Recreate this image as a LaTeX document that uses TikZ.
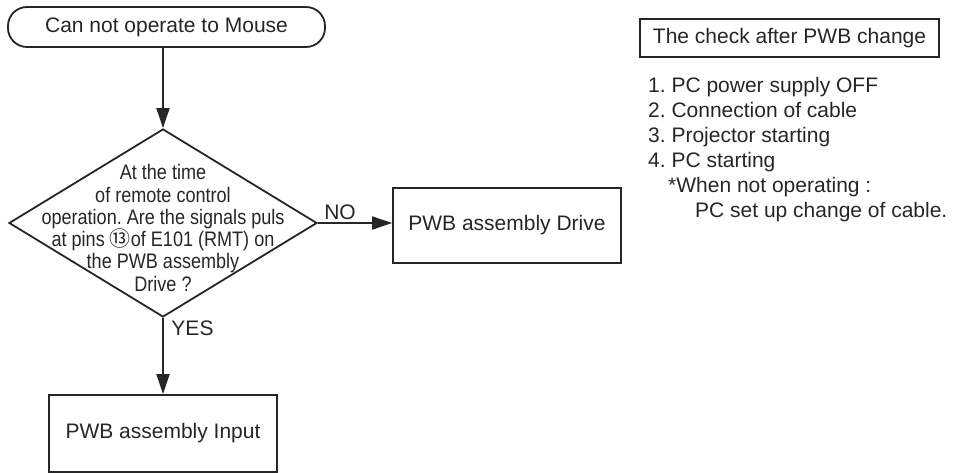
\documentclass[tikz,border=0pt]{standalone}
\usepackage{fontspec}
\setmainfont{Liberation Sans}
\newfontfamily\condfont{Liberation Sans}[FakeStretch=0.86]
\newfontfamily\cjkfont{Noto Sans CJK SC}
\usetikzlibrary{shapes.geometric,arrows.meta}
\frenchspacing
\begin{document}
\begin{tikzpicture}[x=1pt,y=-1pt,
  every node/.style={font=\fontsize{21}{25}\selectfont, text=black!85},
  box/.style={draw=black!85, line width=1.8pt, inner sep=0pt, align=center},
  decision/.style={draw=black!85, line width=1.8pt, diamond, inner sep=0pt, minimum width=308pt, minimum height=188pt},
  dectext/.style={align=center, inner sep=0pt, font=\condfont\fontsize{21}{22.3}\selectfont},
  arr/.style={line width=1.8pt, draw=black!85, -{Triangle[length=20pt,width=13pt]}},
  lbl/.style={inner sep=0pt},
  listline/.style={anchor=base west, inner sep=0pt}
]
\useasboundingbox (0,0) rectangle (956,473);
% start
\node[box, rounded corners=19pt, minimum width=317pt, minimum height=40pt] (start) at (166.5,27) {Can not operate to Mouse};
% decision
\node[decision] (dec) at (163,223) {};
\node[dectext] (dect) at (163,228) {\frenchspacing At the time\\of remote control\\operation. Are the signals puls\\at pins {\cjkfont ⑬}of E101 (RMT) on\\the PWB assembly\\Drive ?};
% result boxes
\node[box, minimum width=228pt, minimum height=75pt] (drive) at (507,225.5) {PWB assembly Drive};
\node[box, minimum width=228pt, minimum height=77pt] (input) at (163,433.5) {PWB assembly Input};
% connectors
\draw[arr] (start.south -| dec.north) -- (dec.north);
\draw[arr] (dec.east) -- (dec.east -| drive.west);
\draw[arr] (dec.south) -- (input.north);
\node[lbl] (no) at (340,212) {NO};
\node[lbl] (yes) at (192.5,328) {YES};
% check list
\node[box, line width=1.5pt, minimum width=299pt, minimum height=38pt] (check) at (789.5,38) {The check after PWB change};
\node[listline] (l1) at (648,92.5) {\frenchspacing 1. PC power supply OFF};
\node[listline] (l2) at (648,117.5) {\frenchspacing 2. Connection of cable};
\node[listline] (l3) at (648,142.5) {\frenchspacing 3. Projector starting};
\node[listline] (l4) at (648,167.5) {\frenchspacing 4. PC starting};
\node[listline] (l5) at (668,192.5) {*When not operating :};
\node[listline] (l6) at (695,217.5) {PC set up change of cable.};
\end{tikzpicture}
\end{document}
